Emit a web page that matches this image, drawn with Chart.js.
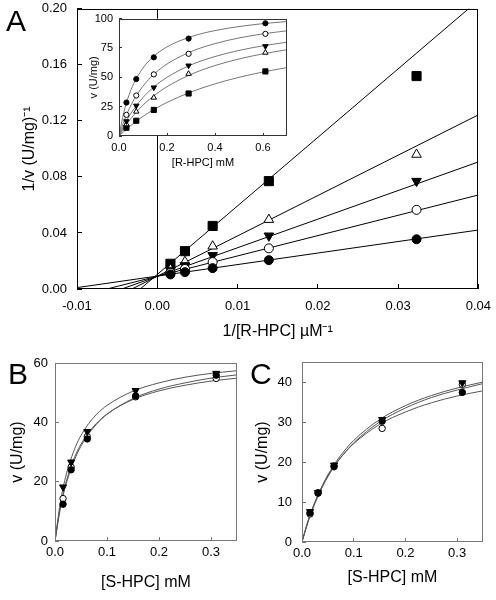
<!DOCTYPE html>
<html>
<head>
<meta charset="utf-8">
<script src="https://cdn.jsdelivr.net/npm/chart.js@4.4.0/dist/chart.umd.min.js"></script>
<style>
  body { margin: 0; background: #fff; }
  #wrap { position: relative; width: 496px; height: 600px; overflow: hidden; }
  canvas { position: absolute; }
  .tag { position: absolute; font: 30px 'Liberation Sans', Arial, sans-serif; line-height: 1; }
</style>
</head>
<body>
<div id="wrap">
  <canvas id="mainA" width="506" height="364" style="left:0;top:-14px"></canvas>
  <canvas id="inset" width="220" height="175" style="left:80px;top:3px"></canvas>
  <canvas id="panelB" width="248" height="260" style="left:0;top:340px"></canvas>
  <canvas id="panelC" width="248" height="260" style="left:248px;top:340px"></canvas>
  <div class="tag" style="left:6px;top:6px">A</div>
  <div class="tag" style="left:8px;top:359px">B</div>
  <div class="tag" style="left:250px;top:359px">C</div>
</div>
<script>
// ---- panel A: double reciprocal plot, x = 1/[R-HPC] (uM^-1)
const invR = [0.00164, 0.00345, 0.0069, 0.0139, 0.0323];
const invV_fc = [0.0104, 0.0120, 0.0149, 0.0206, 0.0355];
const invV_oc = [0.0115, 0.0143, 0.0192, 0.0290, 0.0565];
const invV_dt = [0.0132, 0.0168, 0.0240, 0.0380, 0.0770];
const invV_ot = [0.0140, 0.0195, 0.0305, 0.0495, 0.0960];
const invV_sq = [0.0180, 0.0270, 0.0450, 0.0770, 0.1520];
// fitted lines, read at both edges of the plot
const lineX = [-0.01, 0.04];
const line_fc = [0.0010, 0.0421];
const line_oc = [-0.0054, 0.0671];
const line_dt = [-0.0114, 0.0907];
const line_ot = [-0.0197, 0.1243];
const line_sq = [-0.0385, 0.2060];

// ---- inset: v vs [R-HPC] mM
const rConc = [0.031, 0.072, 0.145, 0.29, 0.61];
const v_fc = [28.5, 48.5, 67, 83, 96];
const v_oc = [18, 34.5, 52.5, 70, 87];
const v_dt = [12.5, 25.8, 41.3, 60, 76.5];
const v_ot = [10, 20.8, 32.7, 53, 71];
const v_sq = [7, 13, 22.2, 36.2, 55];
const rCurveX = [0, 0.02, 0.05, 0.1, 0.15, 0.2, 0.3, 0.4, 0.5, 0.6, 0.7];
const rCurve_fc = [0, 20.0, 39.3, 57.9, 68.8, 75.9, 84.6, 89.8, 93.2, 95.7, 97.5];
const rCurve_oc = [0, 12.3, 26.3, 42.5, 53.4, 61.3, 71.9, 78.7, 83.5, 87.0, 89.6];
const rCurve_dt = [0, 8.8, 19.4, 32.8, 42.6, 50.0, 60.6, 67.7, 72.9, 76.8, 79.9];
const rCurve_ot = [0, 6.6, 15.0, 26.3, 35.0, 42.0, 52.5, 60.0, 65.6, 70.0, 73.5];
const rCurve_sq = [0, 3.8, 9.1, 16.7, 23.1, 28.6, 37.5, 44.4, 50.0, 54.5, 58.3];

// ---- panels B and C: v vs [S-HPC] mM
const sConc = [0.0155, 0.031, 0.062, 0.155, 0.31];
const sCurveX = [0, 0.01, 0.02, 0.04, 0.06, 0.08, 0.1, 0.15, 0.2, 0.25, 0.3, 0.35];
const vB_fc = [12.4, 24.0, 34.4, 48.9, 55.9];
const vB_oc = [14.3, 24.9, 35.2, 48.6, 54.8];
const vB_dt = [18.2, 26.6, 36.9, 50.7, 56.5];
const bCurve_fc = [0, 10.7, 18.3, 28.4, 34.9, 39.4, 42.7, 48.0, 51.2, 53.3, 54.9, 56.0];
const bCurve_oc = [0, 11.3, 19.1, 29.2, 35.4, 39.7, 42.8, 47.7, 50.6, 52.5, 53.9, 54.9];
const bCurve_dt = [0, 12.8, 21.3, 32.0, 38.4, 42.7, 45.7, 50.5, 53.3, 55.2, 56.5, 57.4];
const vC_fc = [7.3, 12.3, 19.0, 30.2, 37.4];
const vC_oc = [7.0, 12.2, 18.8, 28.4, 39.4];
const vC_dt = [7.6, 12.4, 19.2, 30.6, 39.8];
const cCurve_fc = [0, 4.6, 8.3, 14.2, 18.6, 21.9, 24.6, 29.4, 32.5, 34.8, 36.5, 37.8];
const cCurve_oc = [0, 4.3, 8.0, 13.9, 18.4, 21.9, 24.8, 30.0, 33.5, 36.1, 38.0, 39.6];
const cCurve_dt = [0, 4.5, 8.3, 14.3, 18.9, 22.5, 25.4, 30.6, 34.1, 36.6, 38.5, 40.0];

Chart.defaults.font.family = "'Liberation Sans', Arial, sans-serif";
Chart.defaults.color = '#000';
Chart.defaults.animation = false;
Chart.defaults.events = [];
Chart.defaults.plugins.legend.display = false;
Chart.defaults.plugins.tooltip.enabled = false;

// box around the plot area (+ optional background)
Chart.register({
  id: 'frame',
  beforeDraw(chart, args, opts) {
    const a = chart.chartArea, ctx = chart.ctx;
    if (opts.fill) {
      ctx.save();
      ctx.fillStyle = opts.fill;
      ctx.fillRect(a.left, a.top, a.right - a.left, a.bottom - a.top);
      ctx.restore();
    }
  },
  afterDraw(chart, args, opts) {
    const a = chart.chartArea, ctx = chart.ctx;
    ctx.save();
    ctx.strokeStyle = opts.color || '#000';
    ctx.lineWidth = 1;
    ctx.strokeRect(Math.round(a.left) + 0.5, Math.round(a.top) + 0.5,
      Math.round(a.right - a.left) - 1, Math.round(a.bottom - a.top) - 1);
    ctx.restore();
  }
});

const markers = {
  fc: { style: 'circle', fill: '#000', rot: 0 },
  oc: { style: 'circle', fill: '#fff', rot: 0 },
  dt: { style: 'triangle', fill: '#000', rot: 180 },
  ot: { style: 'triangle', fill: '#fff', rot: 0 },
  sq: { style: 'rect', fill: '#000', rot: 0 }
};
const sizes = { circle: 1, triangle: 1.2, rect: 1.4 };

function pts(xs, ys, kind, r) {
  const m = markers[kind];
  return {
    data: xs.map((x, i) => ({ x, y: ys[i] })),
    showLine: false, order: 0,
    pointStyle: m.style, pointRotation: m.rot,
    pointRadius: r * sizes[m.style],
    pointBackgroundColor: m.fill, pointBorderColor: '#000', pointBorderWidth: 1
  };
}
function curve(xs, ys, color) {
  return {
    data: xs.map((x, i) => ({ x, y: ys[i] })),
    showLine: true, order: 1, pointRadius: 0,
    borderColor: color, borderWidth: 1, cubicInterpolationMode: 'monotone'
  };
}

// left axes use title padding.top, bottom axes padding.bottom
function axis(pos, min, max, step, digits, o) {
  return {
    type: 'linear', position: pos, min, max,
    border: { display: false },
    grid: { drawOnChartArea: false, tickLength: -o.tick, tickColor: o.line, lineWidth: 1 },
    ticks: {
      stepSize: step, includeBounds: false, padding: o.pad, maxRotation: 0, autoSkip: false,
      font: { size: o.font },
      callback: v => (Math.abs(v) < 1e-9 ? 0 : v).toFixed(digits)
    },
    title: { display: true, text: o.title, font: { size: o.tfont }, padding: { top: o.tpad, bottom: o.tpad } },
    afterFit: s => { if (pos === 'bottom') s.height = o.fit; else s.width = o.fit; }
  };
}

// ---- A
const xA = axis('bottom', -0.01, 0.04, 0.01, 2,
  { tick: 5, line: '#000', pad: 15, font: 13, title: '1/[R-HPC] \u00b5M\u207b\u00b9', tfont: 16, tpad: 9, fit: 61 });
xA.grid.drawOnChartArea = true;
xA.grid.color = c => (c.tick && Math.abs(c.tick.value) < 1e-9 ? '#000' : 'rgba(0,0,0,0)');
new Chart(document.getElementById('mainA'), {
  type: 'scatter',
  data: { datasets: [
    pts(invR, invV_fc, 'fc', 4.5), pts(invR, invV_oc, 'oc', 4.5), pts(invR, invV_dt, 'dt', 4.6),
    pts(invR, invV_ot, 'ot', 4.6), pts(invR, invV_sq, 'sq', 4.6),
    curve(lineX, line_fc, '#000'), curve(lineX, line_oc, '#000'), curve(lineX, line_dt, '#000'),
    curve(lineX, line_ot, '#000'), curve(lineX, line_sq, '#000')
  ] },
  options: {
    responsive: false,
    layout: { padding: 0 },
    plugins: { frame: { color: '#000' } },
    scales: {
      x: xA,
      y: axis('left', 0, 0.2, 0.04, 2,
        { tick: 5, line: '#000', pad: 15, font: 13, title: '1/v (U/mg)\u207b\u00b9', tfont: 16, tpad: 20, fit: 77 })
    }
  }
});

// ---- inset
new Chart(document.getElementById('inset'), {
  type: 'scatter',
  data: { datasets: [
    pts(rConc, v_fc, 'fc', 2.6), pts(rConc, v_oc, 'oc', 2.6), pts(rConc, v_dt, 'dt', 2.6),
    pts(rConc, v_ot, 'ot', 2.6), pts(rConc, v_sq, 'sq', 2.6),
    curve(rCurveX, rCurve_fc, '#777'), curve(rCurveX, rCurve_oc, '#777'), curve(rCurveX, rCurve_dt, '#777'),
    curve(rCurveX, rCurve_ot, '#777'), curve(rCurveX, rCurve_sq, '#777')
  ] },
  options: {
    responsive: false,
    layout: { padding: { top: 0, right: 13, left: 0, bottom: 0 } },
    plugins: { frame: { color: '#333', fill: '#fff' } },
    scales: {
      x: axis('bottom', 0, 0.7, 0.2, 1,
        { tick: 3, line: '#333', pad: 8, font: 11, title: '[R-HPC] mM', tfont: 11, tpad: 8, fit: 42 }),
      y: axis('left', 0, 100, 25, 0,
        { tick: 3, line: '#333', pad: 9, font: 11, title: 'v (U/mg)', tfont: 11, tpad: 7, fit: 39 })
    }
  }
});

// ---- B and C
function sPanel(id, dsets, ymax, ystep, o) {
  new Chart(document.getElementById(id), {
    type: 'scatter',
    data: { datasets: dsets },
    options: {
      responsive: false,
      layout: { padding: { top: o.top, right: o.right, left: 0, bottom: 0 } },
      plugins: { frame: { color: '#777' } },
      scales: {
        x: axis('bottom', 0, 0.35, 0.1, 1,
          { tick: 4, line: '#777', pad: 8, font: 13, title: '[S-HPC] mM', tfont: 16, tpad: o.xtpad, fit: o.xfit }),
        y: axis('left', 0, ymax, ystep, 0,
          { tick: 4, line: '#777', pad: o.ypad, font: 13, title: 'v (U/mg)', tfont: 16, tpad: o.ytpad, fit: o.yfit })
      }
    }
  });
}
sPanel('panelB', [
  pts(sConc, vB_dt, 'dt', 3.4), pts(sConc, vB_fc, 'fc', 3.2), pts(sConc, vB_oc, 'oc', 3.2),
  curve(sCurveX, bCurve_fc, '#555'), curve(sCurveX, bCurve_oc, '#555'), curve(sCurveX, bCurve_dt, '#555')
], 60, 20, { top: 23, right: 11, xtpad: 8, xfit: 59, ypad: 11, ytpad: 8, yfit: 55 });
sPanel('panelC', [
  pts(sConc, vC_dt, 'dt', 3.4), pts(sConc, vC_fc, 'fc', 3.2), pts(sConc, vC_oc, 'oc', 3.2),
  curve(sCurveX, cCurve_fc, '#555'), curve(sCurveX, cCurve_oc, '#555'), curve(sCurveX, cCurve_dt, '#555')
], 45, 10, { top: 22, right: 13, xtpad: 13, xfit: 58, ypad: 14, ytpad: 5, yfit: 54 });
</script>
</body>
</html>
